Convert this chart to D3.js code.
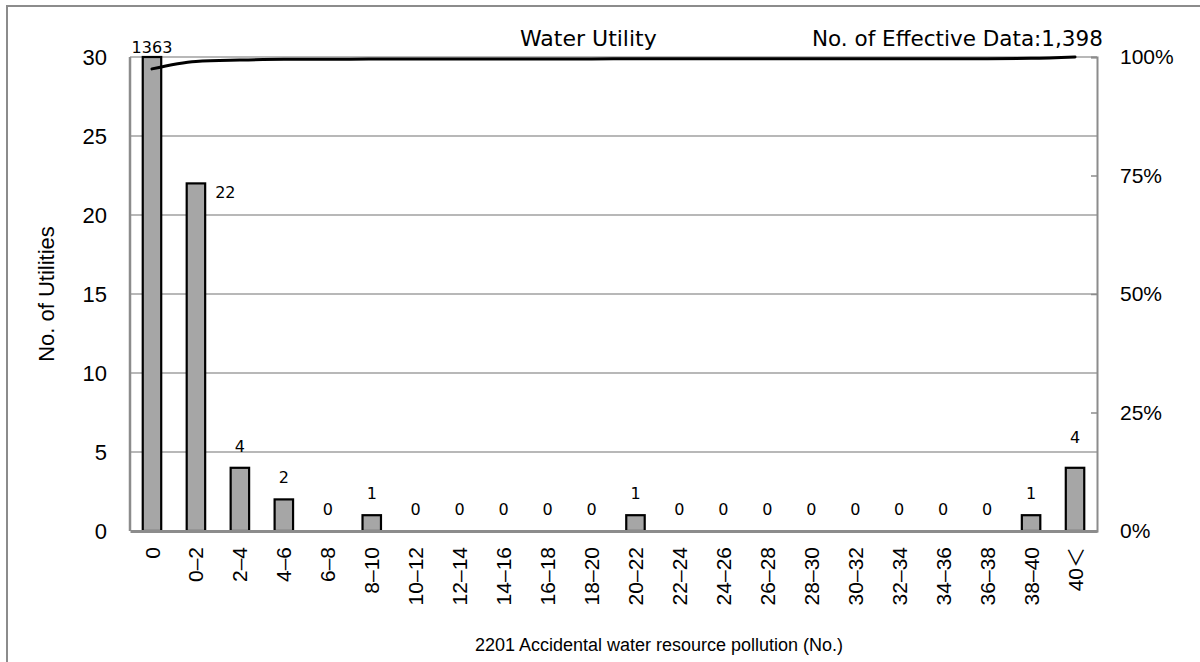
<!DOCTYPE html>
<html>
<head>
<meta charset="utf-8">
<script src="https://cdn.jsdelivr.net/npm/d3@7"></script>
<style>
  body { margin: 0; background: #fff; }
</style>
</head>
<body>
<div id="chart"></div>
<script>
// bins of the histogram and how many utilities fall in each
const categories = ["0", "0–2", "2–4", "4–6", "6–8", "8–10", "10–12", "12–14", "14–16", "16–18", "18–20",
  "20–22", "22–24", "24–26", "26–28", "28–30", "30–32", "32–34", "34–36", "36–38", "38–40", "40＜"];
const counts = [1363, 22, 4, 2, 0, 1, 0, 0, 0, 0, 0, 1, 0, 0, 0, 0, 0, 0, 0, 0, 1, 4];
const leftTicks = [0, 5, 10, 15, 20, 25, 30];
const rightTicks = [0, 0.25, 0.5, 0.75, 1];

const chartTitle = "Water Utility";
const effectiveText = "No. of Effective Data:1,398";
const xTitle = "2201 Accidental water resource pollution (No.)";
const yTitle = "No. of Utilities";

drawChart("#chart");

function drawChart(container) {
  const width = 1200;
  const height = 662;
  const marginTop = 57;
  const marginRight = 103;
  const marginBottom = 131;
  const marginLeft = 130;
  const grey = "#8c8c8c";

  const total = d3.sum(counts);
  const cum = Array.from(d3.cumsum(counts), v => v / total);
  const data = categories.map((c, i) => ({cat: c, v: counts[i], p: cum[i]}));

  const x = d3.scaleBand()
      .domain(categories)
      .range([marginLeft, width - marginRight])
      .paddingInner(0.58)
      .paddingOuter(0.29);

  const y = d3.scaleLinear()
      .domain([0, 30])
      .range([height - marginBottom, marginTop])
      .clamp(true);

  const yP = d3.scaleLinear()
      .domain([0, 1])
      .range([height - marginBottom, marginTop]);

  const svg = d3.create("svg")
      .attr("width", width)
      .attr("height", height)
      .attr("viewBox", [0, 0, width, height])
      .attr("style", "display:block;");

  // outer frame
  svg.append("rect")
      .attr("x", 7).attr("y", 6)
      .attr("width", 1200).attr("height", 700)
      .attr("fill", "none")
      .attr("stroke", grey)
      .attr("stroke-width", 2);

  // horizontal grid
  svg.append("g")
      .selectAll("line")
      .data(leftTicks.slice(1))
      .join("line")
        .attr("x1", marginLeft)
        .attr("x2", width - marginRight)
        .attr("y1", d => y(d))
        .attr("y2", d => y(d))
        .attr("stroke", "#a0a0a0")
        .attr("stroke-width", 1.5);

  // bars
  svg.append("g")
      .attr("fill", "#a6a6a6")
      .attr("stroke", "black")
      .attr("stroke-width", 2.2)
      .selectAll("rect")
      .data(data.filter(d => d.v > 0))
      .join("rect")
        .attr("x", d => x(d.cat))
        .attr("y", d => y(d.v))
        .attr("width", x.bandwidth())
        .attr("height", d => y(0) - y(d.v));

  // left axis
  svg.append("g")
      .attr("transform", `translate(${marginLeft},0)`)
      .call(d3.axisLeft(y).tickValues(leftTicks).tickSize(0).tickPadding(23))
      .call(g => g.select(".domain").remove())
      .call(g => g.selectAll("text")
          .attr("font-family", "'Liberation Sans', Arial, sans-serif")
          .attr("font-size", 22)
          .attr("fill", "black"));

  svg.append("line")
      .attr("x1", marginLeft).attr("x2", marginLeft)
      .attr("y1", marginTop).attr("y2", height - marginBottom)
      .attr("stroke", grey)
      .attr("stroke-width", 2.5);

  // right axis (cumulative %)
  svg.append("g")
      .attr("transform", `translate(${width - marginRight},0)`)
      .call(d3.axisRight(yP).tickValues(rightTicks).tickFormat(d3.format(".0%")).tickSize(-6).tickPadding(23))
      .call(g => g.select(".domain")
          .attr("stroke", grey)
          .attr("stroke-width", 2))
      .call(g => g.selectAll(".tick line")
          .attr("stroke", grey)
          .attr("stroke-width", 1.5))
      .call(g => g.selectAll("text")
          .attr("font-family", "'Liberation Sans', Arial, sans-serif")
          .attr("font-size", 21)
          .attr("fill", "black"));

  // bottom axis
  svg.append("g")
      .attr("transform", `translate(0,${height - marginBottom})`)
      .call(d3.axisBottom(x).tickSize(0).tickSizeOuter(0))
      .call(g => g.select(".domain")
          .attr("stroke", grey)
          .attr("stroke-width", 3))
      .call(g => g.selectAll("text")
          .attr("font-family", "'Liberation Sans', Arial, 'Noto Sans CJK JP', sans-serif")
          .attr("font-size", 21)
          .attr("fill", "black")
          .attr("transform", "rotate(-90)")
          .attr("text-anchor", "end")
          .attr("x", -16)
          .attr("y", 0)
          .attr("dy", "0.36em"));

  // cumulative line
  const line = d3.line()
      .curve(d3.curveMonotoneX)
      .x(d => x(d.cat) + x.bandwidth() / 2)
      .y(d => yP(d.p));

  svg.append("path")
      .datum(data)
      .attr("fill", "none")
      .attr("stroke", "black")
      .attr("stroke-width", 3)
      .attr("stroke-linejoin", "round")
      .attr("stroke-linecap", "round")
      .attr("d", line);

  // value labels
  const last = categories.length - 1;
  svg.append("g")
      .attr("font-family", "'DejaVu Sans', sans-serif")
      .attr("font-size", 16)
      .attr("fill", "black")
      .selectAll("text")
      .data(data)
      .join("text")
        .attr("x", (d, i) => i === 1 ? x(d.cat) + x.bandwidth() + 10 : x(d.cat) + x.bandwidth() / 2)
        .attr("y", (d, i) => {
          if (d.v > y.domain()[1]) return y(d.v) - 4;
          if (i === 1) return y(d.v) + 15;
          if (i === last) return y(d.v) - 25;
          return y(d.v) - 16;
        })
        .attr("text-anchor", (d, i) => i === 1 ? "start" : "middle")
        .text(d => d.v);

  // titles
  svg.append("text")
      .attr("x", 520).attr("y", 46)
      .attr("font-family", "'DejaVu Sans', sans-serif")
      .attr("font-size", 22)
      .text(chartTitle);

  svg.append("text")
      .attr("x", 812).attr("y", 46)
      .attr("font-family", "'DejaVu Sans', sans-serif")
      .attr("font-size", 21.5)
      .text(effectiveText);

  svg.append("text")
      .attr("transform", `translate(54,${(marginTop + height - marginBottom) / 2}) rotate(-90)`)
      .attr("text-anchor", "middle")
      .attr("font-family", "'Liberation Sans', Arial, sans-serif")
      .attr("font-size", 22)
      .text(yTitle);

  svg.append("text")
      .attr("x", 659).attr("y", 651)
      .attr("text-anchor", "middle")
      .attr("font-family", "'Liberation Sans', Arial, sans-serif")
      .attr("font-size", 18)
      .text(xTitle);

  d3.select(container).node().append(svg.node());
}
</script>
</body>
</html>
